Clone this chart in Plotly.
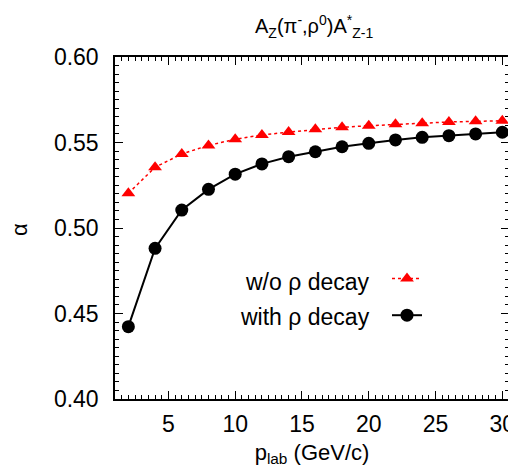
import plotly.graph_objects as go

p_lab = [2, 4, 6, 8, 10, 12, 14, 16, 18, 20, 22, 24, 26, 28, 30]
alpha_no_decay = [0.5203, 0.5355, 0.5433, 0.5483, 0.5519, 0.5544, 0.5561, 0.5577,
                  0.5589, 0.5598, 0.5606, 0.5612, 0.5620, 0.5624, 0.5627]
alpha_decay = [0.4423, 0.4881, 0.5105, 0.5226, 0.5315, 0.5375, 0.5417, 0.5446,
               0.5475, 0.5495, 0.5515, 0.5530, 0.5540, 0.5550, 0.5560]
series_names = ["w/o \u03c1 decay", "with \u03c1 decay"]
y_ticks = [0.40, 0.45, 0.50, 0.55, 0.60]
x_ticks = [5, 10, 15, 20, 25, 30]

FONT = "Liberation Sans, Arial, Helvetica, sans-serif"

# page has an 8px body margin; figure is drawn at (8, 8)
OFF = 8
W, H = 516 - OFF, 476 - OFF
L, R, T, B = 115 - OFF, 7, 57 - OFF, 77
PW, PH = W - L - R, H - T - B


def px(xp):
    return (xp - 115) / PW


def py(yp):
    return 1 - (yp - 57) / PH


fig = go.Figure()
fig.add_trace(go.Scatter(
    x=p_lab, y=alpha_no_decay, mode="lines+markers", name=" ",
    line=dict(color="#ff0000", width=1.5, dash="dot"),
    marker=dict(symbol="triangle-up", size=12, color="#ff0000"),
))
fig.add_trace(go.Scatter(
    x=p_lab, y=alpha_decay, mode="lines+markers", name="  ",
    line=dict(color="black", width=2),
    marker=dict(symbol="circle", size=13, color="black"),
))

axis_common = dict(
    showline=True, linecolor="black", linewidth=1.5, mirror="allticks",
    ticks="inside", ticklen=8, tickwidth=1.2, tickcolor="black",
    showgrid=False, zeroline=False, automargin=False,
    tickfont=dict(family=FONT, size=23, color="black"),
)

fig.update_xaxes(
    range=[1, 30.5], tickvals=x_ticks,
    minor=dict(ticks="inside", ticklen=4, dtick=0.5, tick0=0, tickcolor="black", tickwidth=1),
    title=dict(text="p<sub>lab</sub> (GeV/c)", font=dict(family=FONT, size=22, color="black"), standoff=8),
    ticklabelstandoff=4,
    **axis_common,
)
fig.update_yaxes(
    range=[0.40, 0.60], tickvals=y_ticks, tickformat=".2f",
    minor=dict(ticks="inside", ticklen=4, dtick=0.005, tick0=0.40, tickcolor="black", tickwidth=1),
    ticklabelstandoff=10,
    **axis_common,
)

# y-axis title
fig.add_annotation(
    xref="paper", yref="paper", x=px(19), y=py(230),
    xanchor="center", yanchor="middle", showarrow=False, textangle=-90,
    text="\u03b1", font=dict(family=FONT, size=22, color="black"),
)

# chart title
fig.add_annotation(
    xref="paper", yref="paper", x=px(314), y=py(27),
    xanchor="center", yanchor="middle", showarrow=False,
    text="A<sub>Z</sub>(\u03c0<sup>-</sup>,\u03c1<sup>0</sup>)A<sup>*</sup><sub>Z-1</sub>",
    font=dict(family=FONT, size=20, color="black"),
)

for txt, yp in zip(series_names, [281.7, 316.7]):
    fig.add_annotation(
        xref="paper", yref="paper",
        x=px(372), y=py(yp),
        xanchor="right", yanchor="middle", showarrow=False,
        text=txt, font=dict(family=FONT, size=23, color="black"),
    )

fig.update_layout(
    width=W, height=H,
    margin=dict(l=L, r=R, t=T, b=B),
    paper_bgcolor="white", plot_bgcolor="white",
    showlegend=True,
    legend=dict(
        x=px(387), y=py(255),
        xanchor="left", yanchor="top",
        bgcolor="rgba(0,0,0,0)", borderwidth=0,
        font=dict(family=FONT, size=26, color="black"),
        itemwidth=30,
    ),
    font=dict(family=FONT, color="black"),
)

fig.write_html("out.html")
